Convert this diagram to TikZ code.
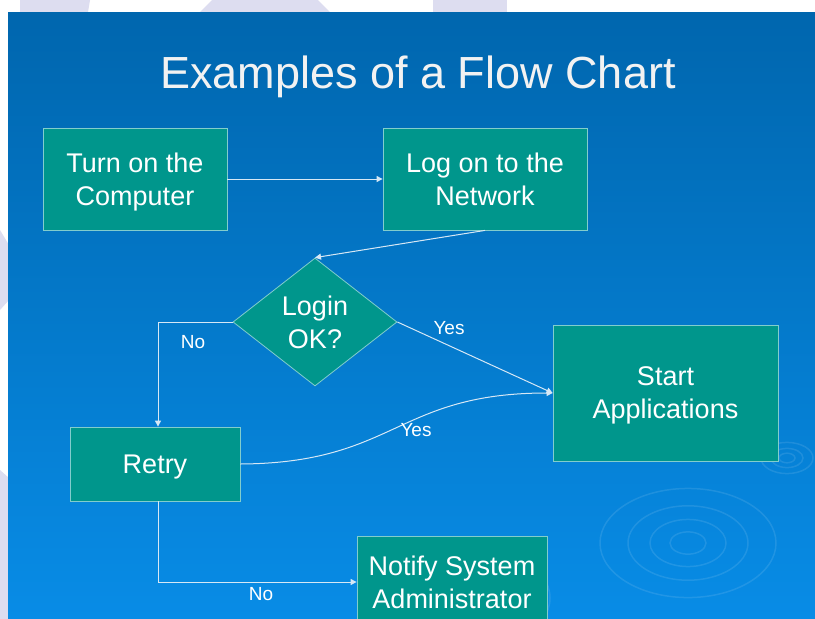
\documentclass[tikz,border=0pt]{standalone}
\usepackage{fontspec}
\setmainfont{Liberation Sans}
\usetikzlibrary{positioning,arrows.meta,shapes.geometric}
\definecolor{slideblue}{RGB}{0,102,174}
\definecolor{slidebluelow}{RGB}{8,140,230}
\definecolor{boxteal}{RGB}{0,150,140}
\definecolor{boxedge}{RGB}{130,205,205}
\definecolor{lav}{RGB}{221,221,240}
\definecolor{linkcol}{RGB}{215,232,245}

\begin{document}
\begin{tikzpicture}[x=1pt,y=-1pt,
  flowbox/.style={draw=boxedge,fill=boxteal,text=white,line width=0.8pt,align=center,inner sep=0pt,text depth=0pt,font=\fontsize{27}{33}\selectfont},
  decision/.style={flowbox,diamond,aspect=1.28,minimum width=164pt,minimum height=128pt},
  link/.style={draw=linkcol,line width=1pt,-{Triangle[length=6pt,width=6pt]}},
  lbl/.style={text=white,font=\fontsize{19}{22}\selectfont}]
\useasboundingbox (0,0) rectangle (815,619);
\fill[white] (0,0) rectangle (815,619);
% lavender pieces of the page behind the slide
\fill[lav] (20,0) -- (90,0) -- (88,12) -- (20,12) -- cycle;
\fill[lav] (212,0) -- (318,0) -- (330,12) -- (200,12) -- cycle;
\fill[lav] (433,0) -- (507,0) -- (507,12) -- (433,12) -- cycle;
\fill[lav] (0,230) -- (9,245) -- (9,300) -- (0,310) -- cycle;
\fill[lav] (0,470) -- (9,478) -- (9,619) -- (0,619) -- cycle;
\shade[top color=slideblue,middle color=slideblue,bottom color=slidebluelow] (8,12) rectangle (815,619);
% ripples
\begin{scope}[draw=white,opacity=.1,line width=1.5pt]
\foreach \r in {18,38,60,88} {\draw (688,543) ellipse ({\r} and {\r*0.62});}
\foreach \r in {8,16,26} {\draw (787,458) ellipse ({\r} and {\r*0.6});}
\foreach \r in {30,60,95} {\draw (455,598) ellipse ({\r} and {\r*0.6});}
\end{scope}
% title
\node[anchor=base,text=white!90!gray,font=\fontsize{45}{50}\selectfont] (title) at (418,88) {Examples of a Flow Chart};
% boxes
\node[flowbox,minimum width=184pt,minimum height=102pt] (turnon) at (135,179) {Turn on the\\Computer};
\node[flowbox,minimum width=204pt,minimum height=102pt] (logon) at (485,179) {Log on to the\\Network};
\node[decision] (login) at (315,322) {Login\\OK?};
\node[flowbox,minimum width=225pt,minimum height=136pt] (start) at (665.5,393) {Start\\Applications};
\node[flowbox,minimum width=170pt,minimum height=74pt] (retry) at (155,464) {Retry};
\node[flowbox,minimum width=190pt,minimum height=92pt] (notify) at (452,582) {Notify System\\Administrator};
% connectors
\draw[link] (turnon) -- (logon);
\draw[link] (logon.south) -- (login.north);
\draw[link] (login.west) -| ([xshift=3pt]retry.north);
\draw[link] (login.east) -- (start.west);
\draw[link] (retry.east) .. controls (396,463) and (396,393) .. (start.west);
\draw[link] ([xshift=3pt]retry.south) |- (notify.west);
% labels
\node[lbl] (nologin) at (193,342) {No};
\node[lbl] (yeslogin) at (449,328) {Yes};
\node[lbl] (yesretry) at (416,430) {Yes};
\node[lbl] (noretry) at (261,594) {No};
\end{tikzpicture}
\end{document}
